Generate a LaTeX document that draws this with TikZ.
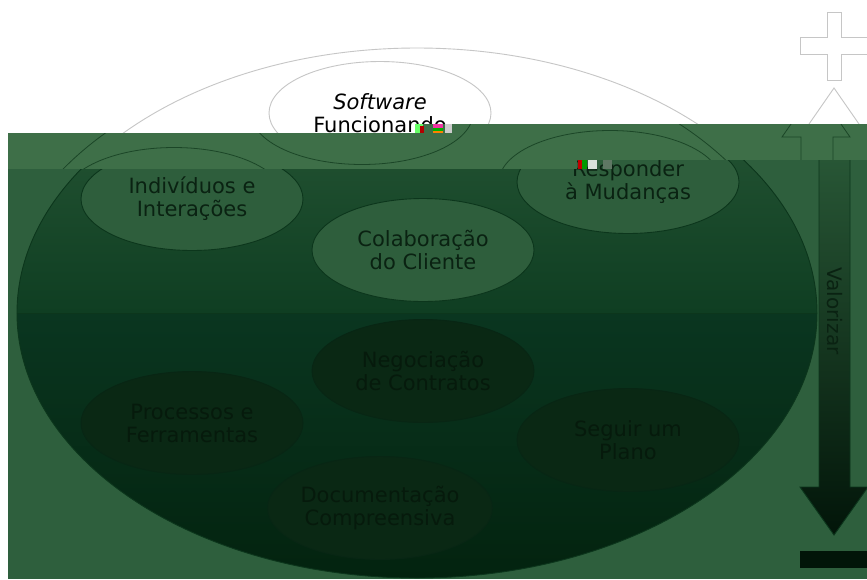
\documentclass[tikz,border=0pt]{standalone}
\usepackage{fontspec}
\setmainfont{DejaVu Sans}
\usetikzlibrary{shapes.geometric}

\definecolor{lineGray}{HTML}{C6C6C6}
\definecolor{bandGreen}{HTML}{3E6F48}
\definecolor{bandLine}{HTML}{1B4627}
\definecolor{bgGreen}{HTML}{2E5F3D}
\definecolor{upTop}{HTML}{2B5B39}
\definecolor{upBot}{HTML}{0F3E22}
\definecolor{lowTop}{HTML}{0A3620}
\definecolor{lowBot}{HTML}{03230F}
\definecolor{darkLine}{HTML}{0C361C}
\definecolor{ovalUp}{HTML}{2E5E3C}
\definecolor{ovalLow}{HTML}{0A2814}
\definecolor{txtDark}{HTML}{0A2212}
\definecolor{txtLow}{HTML}{061A0C}
\definecolor{shaftTop}{HTML}{2A5A38}
\definecolor{shaftBot}{HTML}{021509}

\tikzset{
  oval/.style={ellipse, minimum width=222pt, minimum height=103pt, inner sep=0pt,
    align=center, font=\fontsize{21}{23}\selectfont},
  lay/.style={draw=lineGray, line width=0.9pt},
  upoval/.style={oval, fill=ovalUp, draw=darkLine, text=txtDark, line width=0.9pt},
  lowoval/.style={oval, fill=ovalLow, draw=darkLine!70!black, text=txtLow, line width=0.9pt}
}

\newcommand\sketchlayer{%
  \draw[lay] \bigoval;
  \draw[lay] (380,113) ellipse [x radius=111, y radius=51.5];
  \draw[lay] (192,199) ellipse [x radius=111, y radius=51.5];
  \draw[lay] (628,182) ellipse [x radius=111, y radius=51.5];
  \draw[lay] (834,88) -- (868,137) -- (851,137) -- (851,330)
    -- (819,330) -- (819,137) -- (800,137) -- cycle;
}

\begin{document}
\begin{tikzpicture}[x=1pt, y=-1pt]
\def\bigoval{(417,313) ellipse [x radius=400, y radius=265]}
\useasboundingbox (0,0) rectangle (867,579);
\fill[white] (0,0) rectangle (867,579);

        \begin{scope}
            \clip (0,0) -- (867,0) -- (867,124) -- (415,124) -- (415,133)
              -- (8,133) -- (8,579) -- (0,579) -- cycle;
        \sketchlayer
        \node[oval, text=black] (sw) at (380,113) {\textit{Software}\\Funcionando};
        \draw[lineGray, fill=white, line width=0.9pt] (827,12) -- (841,12) -- (841,37) -- (868,37)
          -- (868,54) -- (841,54) -- (841,80) -- (827,80) -- (827,54) -- (800,54)
          -- (800,37) -- (827,37) -- cycle;
        \end{scope}

        \begin{scope}
            \clip (8,133) -- (415,133) -- (415,124) -- (867,124) -- (867,160)
              -- (577,160) -- (577,169) -- (8,169) -- cycle;
        \fill[bandGreen] (0,0) rectangle (867,579);
            \begin{scope}[xshift=-18pt]
            \tikzset{lay/.style={draw=bandLine, line width=0.8pt}}
            \sketchlayer
            \end{scope}
        \end{scope}

        \begin{scope}
            \clip (8,169) -- (577,169) -- (577,160) -- (867,160) -- (867,579)
              -- (8,579) -- cycle;
        \fill[bgGreen] (0,0) rectangle (867,579);
            \begin{scope}
                \clip \bigoval;
            \shade[top color=upTop, bottom color=upBot] (17,48) rectangle (817,313);
            \shade[top color=lowTop, bottom color=lowBot] (17,313) rectangle (817,578);
            \end{scope}
        \node[ellipse, minimum width=800pt, minimum height=530pt, inner sep=0pt,
          draw=darkLine, line width=0.9pt] (big) at (417,313) {};
        \draw[darkLine, line width=0.9pt] (big.west) -- (big.east);

        \node[upoval] (ind) at (192,199) {Indivíduos e\\Interações};
        \node[upoval] (col) at (423,250) {Colaboração\\do Cliente};
        \node[upoval] (resp) at (628,182) {Responder\\à Mudanças};
        \node[lowoval] (neg) at (423,371) {Negociação\\de Contratos};
        \node[lowoval] (proc) at (192,423) {Processos e\\Ferramentas};
        \node[lowoval] (seg) at (628,440) {Seguir um\\Plano};
        \node[lowoval] (doc) at (380,508) {Documentação\\Compreensiva};

        \shadedraw[top color=shaftTop, bottom color=shaftBot, draw=darkLine, line width=0.9pt]
          (819,137) -- (850,137) -- (850,487) -- (868,487) -- (834,535)
          -- (800,487) -- (819,487) -- cycle;
        \node[rotate=-90, text=txtDark, font=\fontsize{20}{22}\selectfont] (val) at (835,311) {Valorizar};
        \fill[shaftBot] (800,551) rectangle (868,568);
        \end{scope}

% glitch blocks
\fill[green!60!white] (415,124) rectangle (423,133);
\fill[red!70!black] (420,126) rectangle (424,133);
\fill[magenta!80] (433,124) rectangle (443,128);
\fill[green!70!black] (433,128) rectangle (443,131);
\fill[orange] (433,131) rectangle (443,133);
\fill[gray!40] (445,124) rectangle (452,133);
\fill[red!75!black] (578,160) rectangle (582,169);
\fill[green!60!black] (582,160) rectangle (587,169);
\fill[white!80!bandGreen] (588,160) rectangle (597,169);
\fill[gray!50!bandGreen] (603,160) rectangle (612,169);
\end{tikzpicture}
\end{document}
